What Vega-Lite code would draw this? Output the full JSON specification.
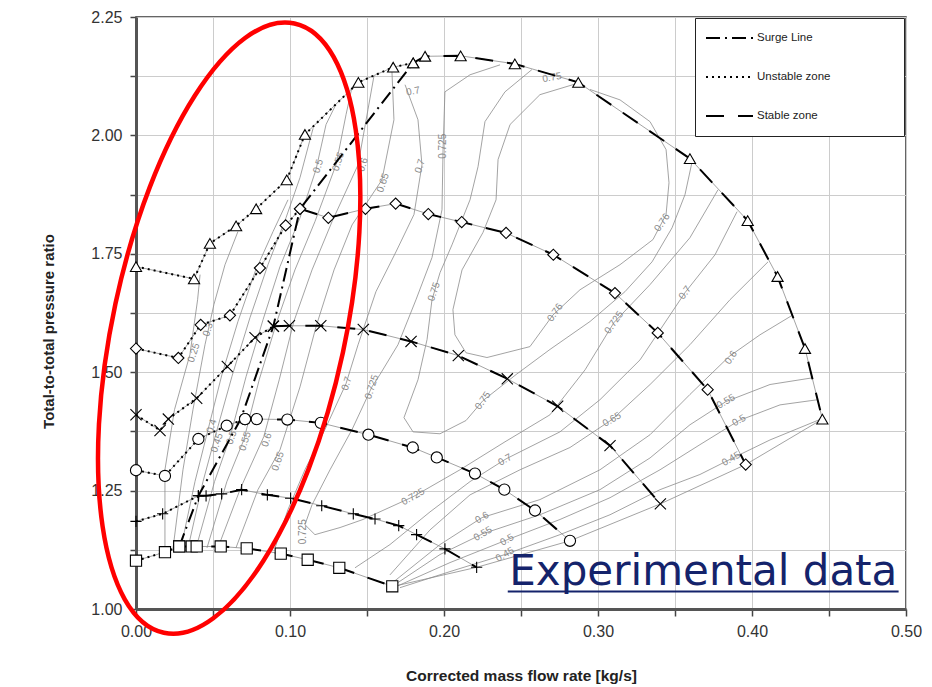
{
"$schema": "https://vega.github.io/schema/vega-lite/v6.json",
"width": 770, "height": 592,
"autosize": {"type": "none"},
"padding": {"left": 136, "top": 17, "right": 26, "bottom": 78},
"background": "white",
"config": {"view": {"stroke": "#333333", "strokeWidth": 1.5}, "font": "Liberation Sans"},
"datasets": {
"speed": [
{"s":"T","zone":"Unstable zone","i":0,"x":0,"y":1.723},{"s":"T","zone":"Unstable zone","i":1,"x":0.0377,"y":1.697},{"s":"T","zone":"Unstable zone","i":2,"x":0.048,"y":1.772},{"s":"T","zone":"Unstable zone","i":3,"x":0.065,"y":1.809},{"s":"T","zone":"Unstable zone","i":4,"x":0.078,"y":1.845},{"s":"T","zone":"Unstable zone","i":5,"x":0.0979,"y":1.906},{"s":"T","zone":"Unstable zone","i":6,"x":0.1097,"y":2.002},{"s":"T","zone":"Unstable zone","i":7,"x":0.1444,"y":2.112},{"s":"T","zone":"Unstable zone","i":8,"x":0.167,"y":2.144},{"s":"T","zone":"Unstable zone","i":9,"x":0.18,"y":2.153},
{"s":"T","zone":"Stable zone","i":9,"x":0.18,"y":2.153},{"s":"T","zone":"Stable zone","i":10,"x":0.1877,"y":2.167},{"s":"T","zone":"Stable zone","i":11,"x":0.2108,"y":2.168},{"s":"T","zone":"Stable zone","i":12,"x":0.246,"y":2.151},{"s":"T","zone":"Stable zone","i":13,"x":0.2872,"y":2.112},{"s":"T","zone":"Stable zone","i":14,"x":0.3597,"y":1.951},{"s":"T","zone":"Stable zone","i":15,"x":0.3972,"y":1.82},{"s":"T","zone":"Stable zone","i":16,"x":0.4166,"y":1.702},{"s":"T","zone":"Stable zone","i":17,"x":0.4344,"y":1.55},{"s":"T","zone":"Stable zone","i":18,"x":0.4457,"y":1.401},
{"s":"D","zone":"Unstable zone","i":0,"x":0,"y":1.55},{"s":"D","zone":"Unstable zone","i":1,"x":0.0275,"y":1.53},{"s":"D","zone":"Unstable zone","i":2,"x":0.042,"y":1.6},{"s":"D","zone":"Unstable zone","i":3,"x":0.061,"y":1.62},{"s":"D","zone":"Unstable zone","i":4,"x":0.0805,"y":1.72},{"s":"D","zone":"Unstable zone","i":5,"x":0.0972,"y":1.81},{"s":"D","zone":"Unstable zone","i":6,"x":0.1065,"y":1.845},
{"s":"D","zone":"Stable zone","i":6,"x":0.1065,"y":1.845},{"s":"D","zone":"Stable zone","i":7,"x":0.1249,"y":1.826},{"s":"D","zone":"Stable zone","i":8,"x":0.149,"y":1.845},{"s":"D","zone":"Stable zone","i":9,"x":0.1686,"y":1.856},{"s":"D","zone":"Stable zone","i":10,"x":0.1898,"y":1.834},{"s":"D","zone":"Stable zone","i":11,"x":0.2115,"y":1.817},{"s":"D","zone":"Stable zone","i":12,"x":0.2403,"y":1.794},{"s":"D","zone":"Stable zone","i":13,"x":0.271,"y":1.748},{"s":"D","zone":"Stable zone","i":14,"x":0.311,"y":1.667},{"s":"D","zone":"Stable zone","i":15,"x":0.3388,"y":1.583},{"s":"D","zone":"Stable zone","i":16,"x":0.3712,"y":1.463},{"s":"D","zone":"Stable zone","i":17,"x":0.3959,"y":1.305},
{"s":"X","zone":"Unstable zone","i":0,"x":0,"y":1.41},{"s":"X","zone":"Unstable zone","i":1,"x":0.0156,"y":1.377},{"s":"X","zone":"Unstable zone","i":2,"x":0.021,"y":1.401},{"s":"X","zone":"Unstable zone","i":3,"x":0.0394,"y":1.445},{"s":"X","zone":"Unstable zone","i":4,"x":0.0593,"y":1.512},{"s":"X","zone":"Unstable zone","i":5,"x":0.0773,"y":1.573},{"s":"X","zone":"Unstable zone","i":6,"x":0.0892,"y":1.597},
{"s":"X","zone":"Stable zone","i":6,"x":0.0892,"y":1.597},{"s":"X","zone":"Stable zone","i":7,"x":0.0996,"y":1.598},{"s":"X","zone":"Stable zone","i":8,"x":0.12,"y":1.598},{"s":"X","zone":"Stable zone","i":9,"x":0.1476,"y":1.59},{"s":"X","zone":"Stable zone","i":10,"x":0.1786,"y":1.565},{"s":"X","zone":"Stable zone","i":11,"x":0.2093,"y":1.535},{"s":"X","zone":"Stable zone","i":12,"x":0.2411,"y":1.486},{"s":"X","zone":"Stable zone","i":13,"x":0.2738,"y":1.428},{"s":"X","zone":"Stable zone","i":14,"x":0.3078,"y":1.345},{"s":"X","zone":"Stable zone","i":15,"x":0.3405,"y":1.222},
{"s":"O","zone":"Unstable zone","i":0,"x":0,"y":1.293},{"s":"O","zone":"Unstable zone","i":1,"x":0.0188,"y":1.281},{"s":"O","zone":"Unstable zone","i":2,"x":0.0405,"y":1.359},{"s":"O","zone":"Unstable zone","i":3,"x":0.0589,"y":1.387},{"s":"O","zone":"Unstable zone","i":4,"x":0.0708,"y":1.401},
{"s":"O","zone":"Stable zone","i":4,"x":0.0708,"y":1.401},{"s":"O","zone":"Stable zone","i":5,"x":0.0784,"y":1.401},{"s":"O","zone":"Stable zone","i":6,"x":0.0983,"y":1.4},{"s":"O","zone":"Stable zone","i":7,"x":0.12,"y":1.393},{"s":"O","zone":"Stable zone","i":8,"x":0.1509,"y":1.368},{"s":"O","zone":"Stable zone","i":9,"x":0.1797,"y":1.341},{"s":"O","zone":"Stable zone","i":10,"x":0.1953,"y":1.32},{"s":"O","zone":"Stable zone","i":11,"x":0.2201,"y":1.286},{"s":"O","zone":"Stable zone","i":12,"x":0.2392,"y":1.252},{"s":"O","zone":"Stable zone","i":13,"x":0.2591,"y":1.208},{"s":"O","zone":"Stable zone","i":14,"x":0.2818,"y":1.144},
{"s":"P","zone":"Unstable zone","i":0,"x":0,"y":1.185},{"s":"P","zone":"Unstable zone","i":1,"x":0.0173,"y":1.201},{"s":"P","zone":"Unstable zone","i":2,"x":0.0405,"y":1.239},
{"s":"P","zone":"Stable zone","i":2,"x":0.0405,"y":1.239},{"s":"P","zone":"Stable zone","i":3,"x":0.0455,"y":1.239},{"s":"P","zone":"Stable zone","i":4,"x":0.0556,"y":1.243},{"s":"P","zone":"Stable zone","i":5,"x":0.0686,"y":1.252},{"s":"P","zone":"Stable zone","i":6,"x":0.0853,"y":1.241},{"s":"P","zone":"Stable zone","i":7,"x":0.1004,"y":1.234},{"s":"P","zone":"Stable zone","i":8,"x":0.1206,"y":1.218},{"s":"P","zone":"Stable zone","i":9,"x":0.1411,"y":1.201},{"s":"P","zone":"Stable zone","i":10,"x":0.1552,"y":1.19},{"s":"P","zone":"Stable zone","i":11,"x":0.1706,"y":1.176},{"s":"P","zone":"Stable zone","i":12,"x":0.1822,"y":1.157},{"s":"P","zone":"Stable zone","i":13,"x":0.2006,"y":1.127},{"s":"P","zone":"Stable zone","i":14,"x":0.2212,"y":1.088},
{"s":"S","zone":"Unstable zone","i":0,"x":0,"y":1.102},{"s":"S","zone":"Unstable zone","i":1,"x":0.0188,"y":1.12},{"s":"S","zone":"Unstable zone","i":2,"x":0.0281,"y":1.132},
{"s":"S","zone":"Stable zone","i":2,"x":0.0281,"y":1.132},{"s":"S","zone":"Stable zone","i":3,"x":0.0362,"y":1.132},{"s":"S","zone":"Stable zone","i":4,"x":0.0394,"y":1.132},{"s":"S","zone":"Stable zone","i":5,"x":0.055,"y":1.132},{"s":"S","zone":"Stable zone","i":6,"x":0.0719,"y":1.128},{"s":"S","zone":"Stable zone","i":7,"x":0.094,"y":1.117},{"s":"S","zone":"Stable zone","i":8,"x":0.1115,"y":1.104},{"s":"S","zone":"Stable zone","i":9,"x":0.132,"y":1.087},{"s":"S","zone":"Stable zone","i":10,"x":0.1664,"y":1.048},
{"s":"SL","zone":"Surge Line","i":0,"x":0.0281,"y":1.132},{"s":"SL","zone":"Surge Line","i":1,"x":0.0405,"y":1.239},{"s":"SL","zone":"Surge Line","i":2,"x":0.068,"y":1.401},{"s":"SL","zone":"Surge Line","i":3,"x":0.0892,"y":1.597},{"s":"SL","zone":"Surge Line","i":4,"x":0.1065,"y":1.845},{"s":"SL","zone":"Surge Line","i":5,"x":0.18,"y":2.153}
],
"contours": [
{"c":"L1","i":0,"x":0.0188,"y":1.125},{"c":"L1","i":1,"x":0.0188,"y":1.294},{"c":"L1","i":2,"x":0.025,"y":1.421},{"c":"L1","i":3,"x":0.035,"y":1.537},{"c":"L1","i":4,"x":0.04,"y":1.653},{"c":"L1","i":5,"x":0.0416,"y":1.706},
{"c":"L2","i":0,"x":0.024,"y":1.127},{"c":"L2","i":1,"x":0.0305,"y":1.294},{"c":"L2","i":2,"x":0.037,"y":1.421},{"c":"L2","i":3,"x":0.0448,"y":1.558},{"c":"L2","i":4,"x":0.0506,"y":1.643},{"c":"L2","i":5,"x":0.0578,"y":1.727},{"c":"L2","i":6,"x":0.0662,"y":1.797},
{"c":"L3","i":0,"x":0.0292,"y":1.129},{"c":"L3","i":1,"x":0.0383,"y":1.269},{"c":"L3","i":2,"x":0.0468,"y":1.379},{"c":"L3","i":3,"x":0.0558,"y":1.495},{"c":"L3","i":4,"x":0.0662,"y":1.607},{"c":"L3","i":5,"x":0.0773,"y":1.712},{"c":"L3","i":6,"x":0.089,"y":1.797},{"c":"L3","i":7,"x":0.0987,"y":1.864},
{"c":"L4","i":0,"x":0.0338,"y":1.129},{"c":"L4","i":1,"x":0.0435,"y":1.269},{"c":"L4","i":2,"x":0.0519,"y":1.37},{"c":"L4","i":3,"x":0.0623,"y":1.491},{"c":"L4","i":4,"x":0.074,"y":1.615},{"c":"L4","i":5,"x":0.0857,"y":1.727},{"c":"L4","i":6,"x":0.0974,"y":1.826},{"c":"L4","i":7,"x":0.1065,"y":1.911},{"c":"L4","i":8,"x":0.113,"y":1.991},{"c":"L4","i":9,"x":0.115,"y":2.015},
{"c":"L5","i":0,"x":0.039,"y":1.129},{"c":"L5","i":1,"x":0.051,"y":1.269},{"c":"L5","i":2,"x":0.061,"y":1.362},{"c":"L5","i":3,"x":0.0715,"y":1.491},{"c":"L5","i":4,"x":0.0825,"y":1.611},{"c":"L5","i":5,"x":0.0935,"y":1.723},{"c":"L5","i":6,"x":0.1065,"y":1.826},{"c":"L5","i":7,"x":0.1169,"y":1.928},{"c":"L5","i":8,"x":0.1234,"y":2.023},{"c":"L5","i":9,"x":0.129,"y":2.06},
{"c":"L6","i":0,"x":0.0461,"y":1.129},{"c":"L6","i":1,"x":0.059,"y":1.269},{"c":"L6","i":2,"x":0.07,"y":1.357},{"c":"L6","i":3,"x":0.08,"y":1.484},{"c":"L6","i":4,"x":0.0915,"y":1.607},{"c":"L6","i":5,"x":0.1032,"y":1.716},{"c":"L6","i":6,"x":0.1162,"y":1.818},{"c":"L6","i":7,"x":0.1299,"y":1.938},{"c":"L6","i":8,"x":0.1364,"y":2.044},{"c":"L6","i":9,"x":0.14,"y":2.098},
{"c":"L7","i":0,"x":0.0532,"y":1.129},{"c":"L7","i":1,"x":0.068,"y":1.256},{"c":"L7","i":2,"x":0.083,"y":1.364},{"c":"L7","i":3,"x":0.093,"y":1.484},{"c":"L7","i":4,"x":0.1025,"y":1.607},{"c":"L7","i":5,"x":0.1143,"y":1.716},{"c":"L7","i":6,"x":0.1273,"y":1.818},{"c":"L7","i":7,"x":0.1442,"y":1.938},{"c":"L7","i":8,"x":0.1506,"y":2.054},{"c":"L7","i":9,"x":0.1545,"y":2.125},
{"c":"L8","i":0,"x":0.0649,"y":1.129},{"c":"L8","i":1,"x":0.0792,"y":1.252},{"c":"L8","i":2,"x":0.0935,"y":1.336},{"c":"L8","i":3,"x":0.1065,"y":1.469},{"c":"L8","i":4,"x":0.1169,"y":1.596},{"c":"L8","i":5,"x":0.1286,"y":1.716},{"c":"L8","i":6,"x":0.1403,"y":1.811},{"c":"L8","i":7,"x":0.1597,"y":1.906},{"c":"L8","i":8,"x":0.1675,"y":2.033},{"c":"L8","i":9,"x":0.1662,"y":2.135},
{"c":"L9","i":0,"x":0.1747,"y":2.107},{"c":"L9","i":1,"x":0.1831,"y":2.033},{"c":"L9","i":2,"x":0.1857,"y":1.938},{"c":"L9","i":3,"x":0.1805,"y":1.833},{"c":"L9","i":4,"x":0.1688,"y":1.754},{"c":"L9","i":5,"x":0.1558,"y":1.67},{"c":"L9","i":6,"x":0.1442,"y":1.558},{"c":"L9","i":7,"x":0.1364,"y":1.476},{"c":"L9","i":8,"x":0.1227,"y":1.379},{"c":"L9","i":9,"x":0.1097,"y":1.294},{"c":"L9","i":10,"x":0.0987,"y":1.21},{"c":"L9","i":11,"x":0.0903,"y":1.129},
{"c":"C725","i":0,"x":0.2364,"y":2.149},{"c":"C725","i":1,"x":0.2169,"y":2.128},{"c":"C725","i":2,"x":0.2006,"y":2.092},{"c":"C725","i":3,"x":0.1994,"y":1.97},{"c":"C725","i":4,"x":0.1987,"y":1.843},{"c":"C725","i":5,"x":0.1922,"y":1.742},{"c":"C725","i":6,"x":0.1818,"y":1.653},{"c":"C725","i":7,"x":0.1701,"y":1.558},{"c":"C725","i":8,"x":0.1584,"y":1.495},{"c":"C725","i":9,"x":0.1532,"y":1.469},{"c":"C725","i":10,"x":0.1403,"y":1.379},{"c":"C725","i":11,"x":0.126,"y":1.294},{"c":"C725","i":12,"x":0.1143,"y":1.22},{"c":"C725","i":13,"x":0.1097,"y":1.178},{"c":"C725","i":14,"x":0.1162,"y":1.157},{"c":"C725","i":15,"x":0.1325,"y":1.172},{"c":"C725","i":16,"x":0.1474,"y":1.189},{"c":"C725","i":17,"x":0.1799,"y":1.237},{"c":"C725","i":18,"x":0.2104,"y":1.294},{"c":"C725","i":19,"x":0.2396,"y":1.353},{"c":"C725","i":20,"x":0.2688,"y":1.41},{"c":"C725","i":21,"x":0.2916,"y":1.505},{"c":"C725","i":22,"x":0.3104,"y":1.605},{"c":"C725","i":23,"x":0.3338,"y":1.685},{"c":"C725","i":24,"x":0.3597,"y":1.784},{"c":"C725","i":25,"x":0.3779,"y":1.885},
{"c":"C75","i":0,"x":0.2571,"y":2.139},{"c":"C75","i":1,"x":0.2396,"y":2.092},{"c":"C75","i":2,"x":0.2266,"y":2.029},{"c":"C75","i":3,"x":0.2221,"y":1.934},{"c":"C75","i":4,"x":0.2169,"y":1.864},{"c":"C75","i":5,"x":0.2052,"y":1.769},{"c":"C75","i":6,"x":0.1974,"y":1.71},{"c":"C75","i":7,"x":0.1922,"y":1.653},{"c":"C75","i":8,"x":0.189,"y":1.569},{"c":"C75","i":9,"x":0.1831,"y":1.484},{"c":"C75","i":10,"x":0.174,"y":1.404},{"c":"C75","i":11,"x":0.1799,"y":1.374},{"c":"C75","i":12,"x":0.1974,"y":1.37},{"c":"C75","i":13,"x":0.2143,"y":1.398},{"c":"C75","i":14,"x":0.2253,"y":1.44},{"c":"C75","i":15,"x":0.2468,"y":1.495},{"c":"C75","i":16,"x":0.2688,"y":1.548},{"c":"C75","i":17,"x":0.2948,"y":1.607},{"c":"C75","i":18,"x":0.3175,"y":1.67},{"c":"C75","i":19,"x":0.3351,"y":1.733},{"c":"C75","i":20,"x":0.3481,"y":1.805},{"c":"C75","i":21,"x":0.3565,"y":1.875},{"c":"C75","i":22,"x":0.361,"y":1.943},
{"c":"C76","i":0,"x":0.2857,"y":2.109},{"c":"C76","i":1,"x":0.2623,"y":2.086},{"c":"C76","i":2,"x":0.2429,"y":2.023},{"c":"C76","i":3,"x":0.2351,"y":1.949},{"c":"C76","i":4,"x":0.2338,"y":1.864},{"c":"C76","i":5,"x":0.2253,"y":1.795},{"c":"C76","i":6,"x":0.2117,"y":1.716},{"c":"C76","i":7,"x":0.2058,"y":1.632},{"c":"C76","i":8,"x":0.2071,"y":1.579},{"c":"C76","i":9,"x":0.2143,"y":1.541},{"c":"C76","i":10,"x":0.2279,"y":1.531},{"c":"C76","i":11,"x":0.2558,"y":1.554},{"c":"C76","i":12,"x":0.2708,"y":1.621},{"c":"C76","i":13,"x":0.2883,"y":1.674},{"c":"C76","i":14,"x":0.3143,"y":1.727},{"c":"C76","i":15,"x":0.3357,"y":1.78},{"c":"C76","i":16,"x":0.3442,"y":1.833},{"c":"C76","i":17,"x":0.3461,"y":1.9},{"c":"C76","i":18,"x":0.3442,"y":1.97},{"c":"C76","i":19,"x":0.3338,"y":2.029},{"c":"C76","i":20,"x":0.3143,"y":2.075},{"c":"C76","i":21,"x":0.2948,"y":2.097},
{"c":"R45","i":0,"x":0.1714,"y":1.045},{"c":"R45","i":1,"x":0.2039,"y":1.079},{"c":"R45","i":2,"x":0.2396,"y":1.115},{"c":"R45","i":3,"x":0.2753,"y":1.157},{"c":"R45","i":4,"x":0.3078,"y":1.199},{"c":"R45","i":5,"x":0.3403,"y":1.252},{"c":"R45","i":6,"x":0.3662,"y":1.284},{"c":"R45","i":7,"x":0.3864,"y":1.317},{"c":"R45","i":8,"x":0.4117,"y":1.357},{"c":"R45","i":9,"x":0.4455,"y":1.402},
{"c":"R50","i":0,"x":0.1701,"y":1.049},{"c":"R50","i":1,"x":0.2039,"y":1.098},{"c":"R50","i":2,"x":0.2409,"y":1.146},{"c":"R50","i":3,"x":0.2753,"y":1.189},{"c":"R50","i":4,"x":0.3078,"y":1.235},{"c":"R50","i":5,"x":0.3403,"y":1.294},{"c":"R50","i":6,"x":0.3662,"y":1.347},{"c":"R50","i":7,"x":0.3916,"y":1.398},{"c":"R50","i":8,"x":0.4182,"y":1.431},{"c":"R50","i":9,"x":0.4429,"y":1.442},
{"c":"R55","i":0,"x":0.1688,"y":1.053},{"c":"R55","i":1,"x":0.1974,"y":1.115},{"c":"R55","i":2,"x":0.2253,"y":1.159},{"c":"R55","i":3,"x":0.2623,"y":1.199},{"c":"R55","i":4,"x":0.3013,"y":1.252},{"c":"R55","i":5,"x":0.3338,"y":1.319},{"c":"R55","i":6,"x":0.3597,"y":1.389},{"c":"R55","i":7,"x":0.3831,"y":1.438},{"c":"R55","i":8,"x":0.4117,"y":1.474},{"c":"R55","i":9,"x":0.439,"y":1.488},
{"c":"R60","i":0,"x":0.1675,"y":1.058},{"c":"R60","i":1,"x":0.1974,"y":1.136},{"c":"R60","i":2,"x":0.2247,"y":1.193},{"c":"R60","i":3,"x":0.2623,"y":1.231},{"c":"R60","i":4,"x":0.3013,"y":1.294},{"c":"R60","i":5,"x":0.3338,"y":1.368},{"c":"R60","i":6,"x":0.3597,"y":1.453},{"c":"R60","i":7,"x":0.3851,"y":1.533},{"c":"R60","i":8,"x":0.4052,"y":1.579},{"c":"R60","i":9,"x":0.4266,"y":1.621},
{"c":"R65","i":0,"x":0.1649,"y":1.072},{"c":"R65","i":1,"x":0.1909,"y":1.167},{"c":"R65","i":2,"x":0.2169,"y":1.241},{"c":"R65","i":3,"x":0.2494,"y":1.294},{"c":"R65","i":4,"x":0.2818,"y":1.341},{"c":"R65","i":5,"x":0.3091,"y":1.4},{"c":"R65","i":6,"x":0.3338,"y":1.474},{"c":"R65","i":7,"x":0.3597,"y":1.558},{"c":"R65","i":8,"x":0.3857,"y":1.653},{"c":"R65","i":9,"x":0.4104,"y":1.733},
{"c":"R70","i":0,"x":0.1422,"y":1.087},{"c":"R70","i":1,"x":0.1649,"y":1.136},{"c":"R70","i":2,"x":0.1909,"y":1.205},{"c":"R70","i":3,"x":0.2169,"y":1.269},{"c":"R70","i":4,"x":0.2403,"y":1.317},{"c":"R70","i":5,"x":0.2753,"y":1.374},{"c":"R70","i":6,"x":0.3013,"y":1.442},{"c":"R70","i":7,"x":0.3273,"y":1.526},{"c":"R70","i":8,"x":0.3565,"y":1.668},{"c":"R70","i":9,"x":0.376,"y":1.748},{"c":"R70","i":10,"x":0.3903,"y":1.839},
{"c":"E","i":0,"x":0.1662,"y":1.047},{"c":"E","i":1,"x":0.2212,"y":1.088},{"c":"E","i":2,"x":0.2818,"y":1.144},{"c":"E","i":3,"x":0.3405,"y":1.222},{"c":"E","i":4,"x":0.3959,"y":1.305},{"c":"E","i":5,"x":0.4457,"y":1.401}
],
"labSteep": [
{"t":"0.25","x":0.0375,"y":1.541},{"t":"0.3","x":0.0468,"y":1.59},{"t":"0.4","x":0.0492,"y":1.386},{"t":"0.45","x":0.0526,"y":1.351},{"t":"0.5","x":0.0621,"y":1.362},{"t":"0.55","x":0.0708,"y":1.354},{"t":"0.6","x":0.0849,"y":1.357},{"t":"0.65","x":0.0922,"y":1.312},{"t":"0.5","x":0.1184,"y":1.935},{"t":"0.55","x":0.1314,"y":1.945},{"t":"0.6","x":0.1474,"y":1.938},{"t":"0.65","x":0.1604,"y":1.9},{"t":"0.7","x":0.1844,"y":1.935},{"t":"0.7","x":0.1368,"y":1.476},{"t":"0.725","x":0.1531,"y":1.469},{"t":"0.75","x":0.1935,"y":1.67}
],
"labVert": [{"t":"0.725","x":0.1995,"y":1.977},{"t":"0.725","x":0.1084,"y":1.163}],
"labMid": [
{"t":"0.76","x":0.2721,"y":1.626},{"t":"0.76","x":0.3416,"y":1.816},{"t":"0.75","x":0.2253,"y":1.44},{"t":"0.725","x":0.3104,"y":1.605},{"t":"0.7","x":0.3565,"y":1.668},{"t":"0.6","x":0.3864,"y":1.531}
],
"labDiag": [
{"t":"0.725","x":0.1799,"y":1.237},{"t":"0.7","x":0.2396,"y":1.315},{"t":"0.65","x":0.3091,"y":1.4},{"t":"0.55","x":0.3831,"y":1.438},{"t":"0.5","x":0.3916,"y":1.398},{"t":"0.45","x":0.3864,"y":1.317},{"t":"0.6","x":0.2247,"y":1.193},{"t":"0.55","x":0.2253,"y":1.159},{"t":"0.5","x":0.2409,"y":1.146},{"t":"0.45","x":0.2396,"y":1.115}
],
"labFlat": [{"t":"0.7","x":0.1799,"y":2.093},{"t":"0.75","x":0.2701,"y":2.122}],
"ellipse": [{"x":0.0605,"y":1.5931}],
"note": [{"x":0.2424,"y":1.0498,"t":"Experimental data"}],
"underline": [{"x":0.2414,"x2":0.4952,"y":1.037}]
},
"encoding": {
"x": {"field":"x","type":"quantitative","scale":{"domain":[0,0.5],"nice":false,"zero":false},
 "axis":{"title":"Corrected mass flow rate [kg/s]","values":[0,0.05,0.1,0.15,0.2,0.25,0.3,0.35,0.4,0.45,0.5],"labelExpr":"round(datum.value*100) % 10 == 0 ? format(datum.value, '.2f') : ''","grid":true,"gridColor":"#cccccc","gridWidth":1,"domainColor":"#555555","domainWidth":3,"tickColor":"#444444","tickWidth":1.5,"tickSize":7,"labelFont":"Liberation Sans","labelFontSize":16,"labelColor":"#333333","labelPadding":7,"labelFlush":false,"labelOverlap":false,"titleFont":"Liberation Sans","titleFontSize":15.5,"titleFontWeight":"bold","titleColor":"#222222","titleY":66,"titleBaseline":"middle"}},
"y": {"field":"y","type":"quantitative","scale":{"domain":[1,2.25],"nice":false,"zero":false},
 "axis":{"title":"Total-to-total pressure ratio","values":[1,1.125,1.25,1.375,1.5,1.625,1.75,1.875,2,2.125,2.25],"labelExpr":"round(datum.value*1000) % 250 == 0 ? format(datum.value, '.2f') : ''","grid":true,"gridColor":"#cccccc","gridWidth":1,"domainColor":"#555555","domainWidth":3,"tickColor":"#444444","tickWidth":1.5,"tickSize":6,"labelFont":"Liberation Sans","labelFontSize":16,"labelColor":"#333333","labelPadding":8,"labelFlush":false,"labelOverlap":false,"titleFont":"Liberation Sans","titleFontSize":15,"titleFontWeight":"bold","titleColor":"#222222","titleX":-88,"titleY":314,"titleAlign":"center","titleBaseline":"middle"}}
},
"layer": [
{"data":{"name":"contours"},"mark":{"type":"line","color":"#8c8c8c","strokeWidth":0.8},"encoding":{"detail":{"field":"c"},"order":{"field":"i","type":"quantitative"}}},
{"data":{"name":"labSteep"},"mark":{"type":"text","angle":-72,"fontSize":10,"color":"#8a8a8a","baseline":"middle"},"encoding":{"text":{"field":"t"}}},
{"data":{"name":"labVert"},"mark":{"type":"text","angle":-90,"fontSize":10,"color":"#8a8a8a","baseline":"middle"},"encoding":{"text":{"field":"t"}}},
{"data":{"name":"labMid"},"mark":{"type":"text","angle":-55,"fontSize":10,"color":"#8a8a8a","baseline":"middle"},"encoding":{"text":{"field":"t"}}},
{"data":{"name":"labDiag"},"mark":{"type":"text","angle":-30,"fontSize":10,"color":"#8a8a8a","baseline":"middle"},"encoding":{"text":{"field":"t"}}},
{"data":{"name":"labFlat"},"mark":{"type":"text","angle":-10,"fontSize":10,"color":"#8a8a8a","baseline":"middle"},"encoding":{"text":{"field":"t"}}},
{"data":{"name":"speed"},"transform":[{"filter":"datum.zone != 'Surge Line'"}],"mark":{"type":"line","color":"#8c8c8c","strokeWidth":0.8},"encoding":{"detail":{"field":"s"},"order":{"field":"i","type":"quantitative"}}},
{"data":{"name":"speed"},"mark":{"type":"line","color":"black","strokeWidth":2},"encoding":{"detail":{"field":"s"},"order":{"field":"i","type":"quantitative"},
 "strokeDash":{"field":"zone","type":"nominal","scale":{"domain":["Surge Line","Unstable zone","Stable zone"],"range":[[14,5,2,5],[2,4],[18,14]]},
  "legend":{"orient":"none","legendX":559,"legendY":1,"title":null,"symbolType":"stroke","symbolSize":2209,"symbolStrokeWidth":2,"symbolStrokeColor":"black","clipHeight":20,"rowPadding":19,"padding":10,"labelOffset":3,"labelFontSize":11.5,"labelFont":"Liberation Sans","labelColor":"#222222","strokeColor":"#222222","fillColor":"white","labelExpr":"datum.label + '\u2800\u2800\u2800\u2800\u2800\u2800\u2800'"}}}},
{"data":{"name":"speed"},"transform":[{"filter":"datum.zone != 'Surge Line'"}],"mark":{"type":"point","filled":true,"fill":"white","stroke":"black","strokeWidth":1.1,"opacity":1},
 "encoding":{"shape":{"field":"s","type":"nominal","scale":{"domain":["T","D","X","O","P","S"],"range":["triangle-up","diamond","M-1,-1L1,1M-1,1L1,-1","circle","M-1,0L1,0M0,-1L0,1","square"]},"legend":null},
  "size":{"field":"s","type":"nominal","scale":{"domain":["T","D","X","O","P","S"],"range":[125,125,85,85,95,64]},"legend":null}}},
{"data":{"name":"ellipse"},"mark":{"type":"point","shape":"M0.2096,-0.9778A0.3734,1,12.1,0,1,-0.2096,0.9778A0.3734,1,12.1,0,1,0.2096,-0.9778Z","size":388129,"filled":false,"color":"#ff0000","strokeWidth":4.5,"opacity":1}},
{"data":{"name":"note"},"mark":{"type":"text","align":"left","baseline":"alphabetic","fontSize":42,"font":"DejaVu Sans","color":"#14236b"},"encoding":{"text":{"field":"t"}}},
{"data":{"name":"underline"},"mark":{"type":"rule","color":"#14236b","strokeWidth":2},"encoding":{"x2":{"field":"x2"}}}
]
}
